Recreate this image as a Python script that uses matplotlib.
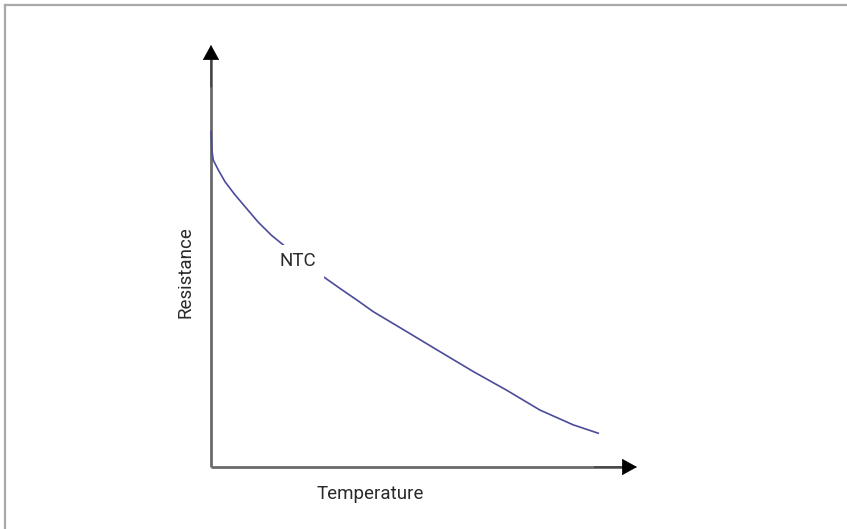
import matplotlib
matplotlib.use("Agg")
import matplotlib.pyplot as plt
from matplotlib.lines import Line2D

# curve (arbitrary units, axis runs 0..100)
temperature = [0, 0.1, 0.2, 0.54, 1.71, 3.29, 5.63, 7.98, 11.1, 14.2, 17.0, 20.9,
               25.1, 30.3, 34.2, 38.1, 45.9, 53.8, 61.6, 69.4, 77.2, 85.0, 90.9]
resistance = [79.5, 77.5, 75.1, 72.7, 70.4, 67.6, 64.5, 61.7, 58.0, 54.9, 52.6, 49.3,
              46.0, 42.3, 39.6, 36.8, 32.1, 27.3, 22.6, 18.2, 13.5, 10.0, 8.0]

label_x, label_y = 20.4, 48.8

font = ["Liberation Sans Narrow", "Roboto", "DejaVu Sans"]

W, H = 847, 529
fig = plt.figure(figsize=(W / 100, H / 100), dpi=100)
fig.patch.set_facecolor("white")

# grey frame on top and left edges
fig.add_artist(Line2D([5 / W, 1], [1 - 4.5 / H, 1 - 4.5 / H], color="#a9a9a9", lw=1.6))
fig.add_artist(Line2D([5 / W, 5 / W], [0, 1 - 4.5 / H], color="#a9a9a9", lw=1.6))

ax = fig.add_axes([211 / W, 62 / H, 426 / W, 422 / H])
ax.set_xlim(0, 100)
ax.set_ylim(0, 100)
ax.axis("off")

# axes with arrowheads
ax.plot([0, 0], [0, 97], color="#6a6a6a", lw=2.0, clip_on=False, solid_capstyle="butt")
ax.plot([0, 97], [0, 0], color="#6a6a6a", lw=2.0, clip_on=False, solid_capstyle="butt")
arrow = dict(arrowstyle="-|>,head_length=1.0,head_width=0.55", color="black",
             lw=0.5, mutation_scale=10, shrinkA=0, shrinkB=0)
ax.annotate("", xy=(0, 100), xytext=(0, 90), arrowprops=arrow, annotation_clip=False)
ax.annotate("", xy=(100, 0), xytext=(90, 0), arrowprops=arrow, annotation_clip=False)

ax.plot(temperature, resistance, color="#4b4b9b", lw=1.2, clip_on=False,
        solid_joinstyle="round")

ax.text(label_x, label_y, "NTC", family=font, fontsize=13.5, color="#2a2a2a",
        ha="center", va="center",
        bbox=dict(boxstyle="square,pad=0.4", facecolor="white", edgecolor="none"))

fig.text(185 / W, 1 - 272 / H, "Resistance", family=font, fontsize=13.5,
         color="#2a2a2a", rotation=90, ha="center", va="center")
fig.text(370 / W, 1 - 494 / H, "Temperature", family=font, fontsize=13.5,
         color="#2a2a2a", ha="center", va="center")

fig.savefig("out.png", dpi=100)
